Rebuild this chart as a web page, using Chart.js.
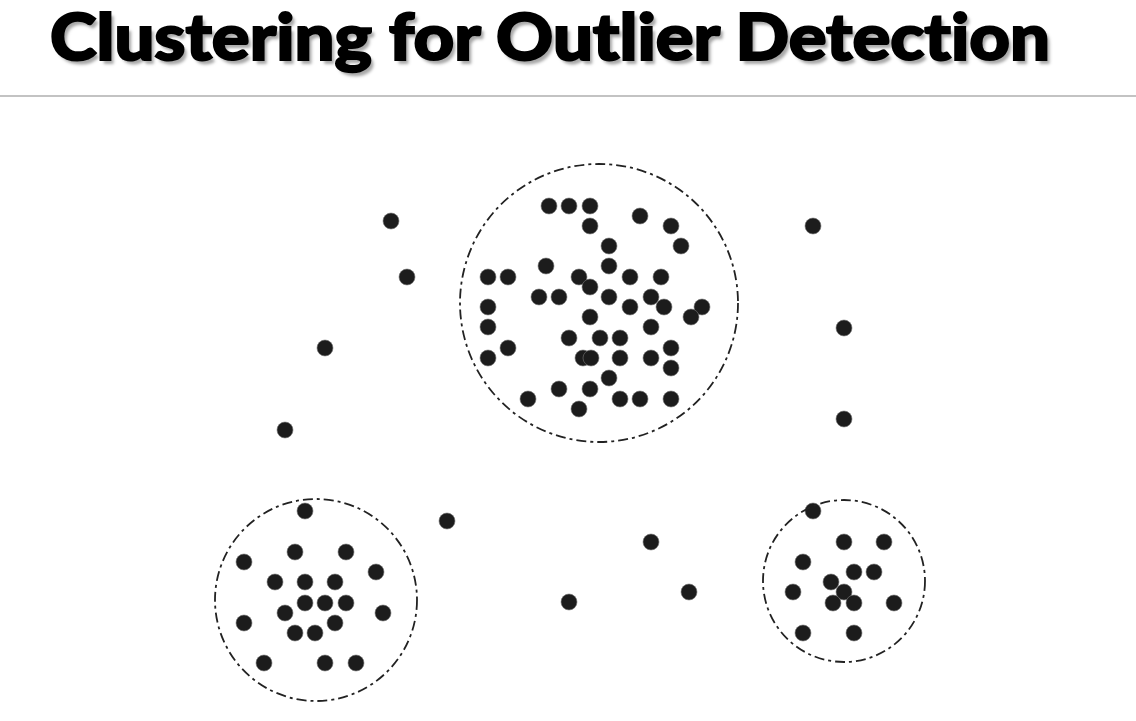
<!DOCTYPE html>
<html>
<head>
<meta charset="utf-8">
<script src="https://cdn.jsdelivr.net/npm/chart.js@4/dist/chart.umd.min.js"></script>
<style>
  html, body { margin: 0; padding: 0; background: #fff; }
  #wrap { position: relative; width: 1136px; height: 721px; overflow: hidden; }
  #title {
    position: absolute; left: 50px; top: -5px;
    font-family: 'Lato', 'Noto Sans', sans-serif; font-weight: 900;
    font-size: 65px; line-height: 80px; color: #000; white-space: nowrap;
    font-variant-ligatures: none; font-feature-settings: "liga" 0;
    -webkit-text-stroke: 2px #000;
    text-shadow: 3px 4px 3px rgba(0,0,0,0.35);
    transform-origin: 0 0;
  }
  #rule { position: absolute; left: 0; top: 95px; width: 1136px; height: 2px; background: #c3c3c3; }
  #chart { position: absolute; left: 0; top: 0; }
</style>
</head>
<body>
<div id="wrap">
  <canvas id="chart" width="1136" height="721"></canvas>
  <div id="title">Clustering for Outlier Detection</div>
  <div id="rule"></div>
</div>
<script>
// ── Data (page coordinates) ──────────────────────────────────

const clusterTop = [
  [549,206],[569,206],[590,206],[590,226],[640,216],[671,226],[609,246],[681,246],
  [546,266],[609,266],[488,277],[508,277],[579,277],[630,277],[661,277],[590,287],
  [539,297],[559,297],[609,297],[651,297],[488,307],[630,307],[664,307],[702,307],
  [691,317],[590,317],[488,327],[651,327],[569,338],[600,338],[620,338],[508,348],
  [671,348],[488,358],[583,358],[591,358],[620,358],[651,358],[671,368],[609,378],
  [559,389],[590,389],[528,399],[620,399],[640,399],[671,399],[579,409],
];

const clusterLeft = [
  [305,511],[295,552],[346,552],[244,562],[376,572],[275,582],[305,582],[335,582],
  [305,603],[325,603],[346,603],[285,613],[383,613],[244,623],[335,623],[295,633],
  [315,633],[264,663],[325,663],[356,663],
];

const clusterRight = [
  [813,511],[844,542],[884,542],[803,562],[854,572],[874,572],[831,582],[793,592],
  [844,592],[833,603],[854,603],[894,603],[803,633],[854,633],
];

const outliers = [
  [391,221],[407,277],[325,348],[285,430],[447,521],[651,542],[569,602],[689,592],
  [813,226],[844,328],[844,419],
];

// dashed cluster boundaries: centre x, centre y, radius
const ringX = [599, 316, 844];
const ringY = [303, 600, 581];
const ringR = [139, 101, 81];

// ── Plugin: dash-dot rings drawn through the scales ───────────

const ringPlugin = {
  id: 'rings',
  afterDatasetsDraw(chart) {
    const { ctx, scales: { x, y } } = chart;
    ctx.save();
    ctx.strokeStyle = '#222';
    ctx.lineWidth = 1.8;
    ctx.setLineDash([10, 4, 3, 4]);
    ringX.forEach((cx, i) => {
      const px = x.getPixelForValue(cx);
      const py = y.getPixelForValue(ringY[i]);
      const r = Math.abs(x.getPixelForValue(cx + ringR[i]) - px);
      ctx.beginPath();
      ctx.arc(px, py, r, 0, Math.PI * 2);
      ctx.stroke();
    });
    ctx.restore();
  },
};

// ── Chart ────────────────────────────────────────────────────

const toPts = arr => arr.map(([x, y]) => ({ x, y }));
const dotStyle = {
  pointRadius: 8,
  pointHoverRadius: 8,
  pointBackgroundColor: '#1c1c1c',
  pointBorderColor: 'rgba(120,120,120,0.6)',
  pointBorderWidth: 1,
  showLine: false,
};

new Chart(document.getElementById('chart'), {
  type: 'scatter',
  data: {
    datasets: [
      { label: 'Cluster 1', data: toPts(clusterTop), ...dotStyle },
      { label: 'Cluster 2', data: toPts(clusterLeft), ...dotStyle },
      { label: 'Cluster 3', data: toPts(clusterRight), ...dotStyle },
      { label: 'Outliers', data: toPts(outliers), ...dotStyle },
    ],
  },
  options: {
    responsive: false,
    animation: false,
    layout: { padding: 0, autoPadding: false },
    plugins: { legend: { display: false }, tooltip: { enabled: false } },
    scales: {
      x: { type: 'linear', min: 0, max: 1136, display: false },
      y: { type: 'linear', min: 0, max: 721, reverse: true, display: false },
    },
  },
  plugins: [ringPlugin],
});

// fit title to its width in the picture
const title = document.getElementById('title');
const w = title.getBoundingClientRect().width;
title.style.transform = `scaleX(${1000 / w})`;
</script>
</body>
</html>
